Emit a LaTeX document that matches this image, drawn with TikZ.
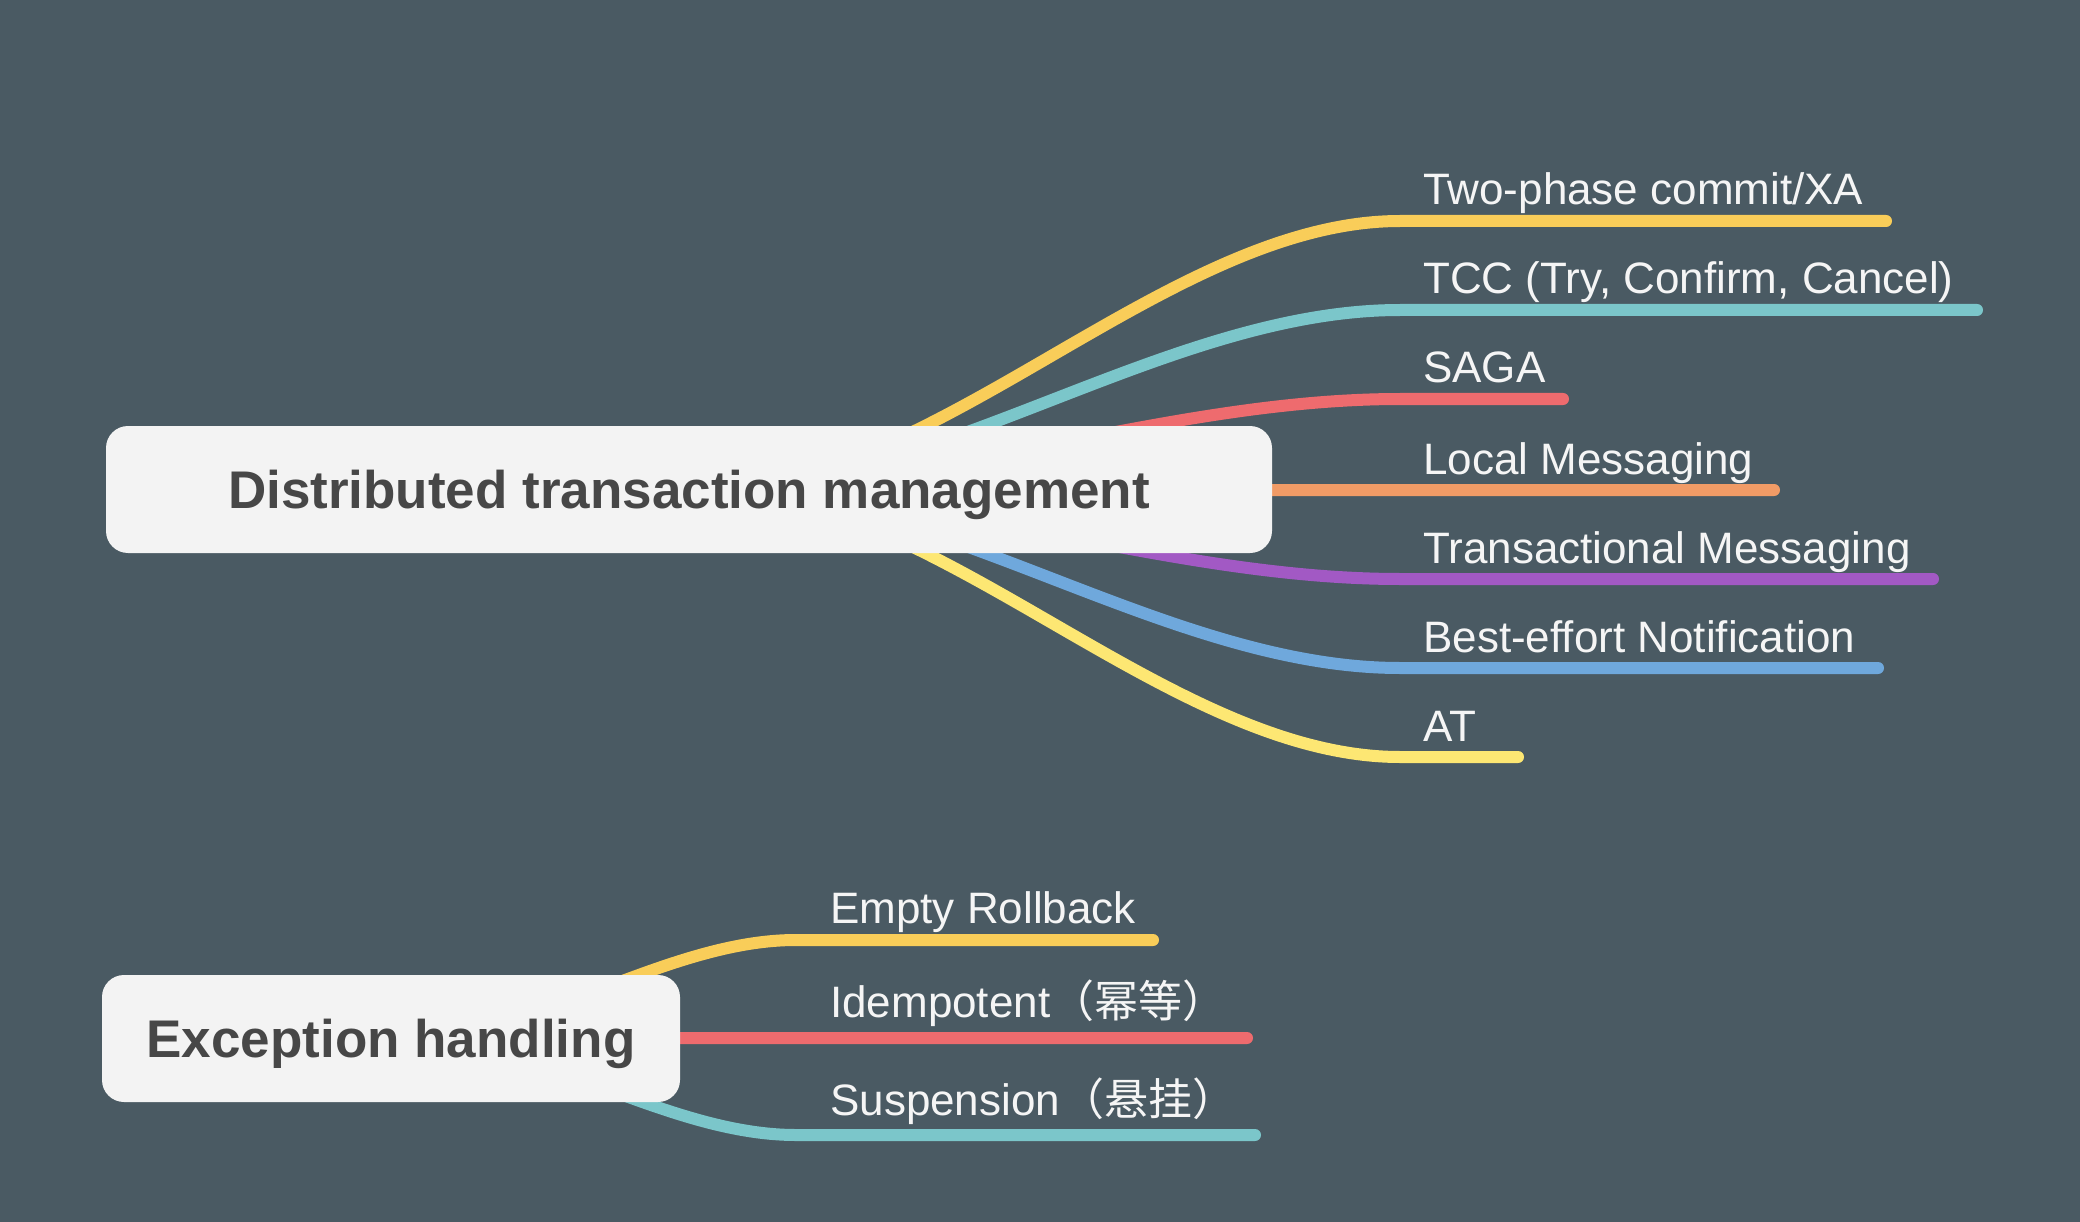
\documentclass[tikz,border=0pt]{standalone}
\usepackage{fontspec}
\setmainfont{Liberation Sans}
\newfontfamily\cjk{Noto Sans CJK SC}
\definecolor{bgc}{RGB}{74,90,99}
\definecolor{boxfill}{RGB}{243,243,243}
\definecolor{boxtext}{RGB}{71,71,71}
\definecolor{labeltext}{RGB}{245,245,245}
\definecolor{cyellow}{RGB}{249,205,89}
\definecolor{ccyan}{RGB}{123,198,202}
\definecolor{cred}{RGB}{238,107,110}
\definecolor{corange}{RGB}{241,155,102}
\definecolor{cpurple}{RGB}{162,89,196}
\definecolor{cblue}{RGB}{111,168,220}
\definecolor{clyellow}{RGB}{253,231,115}
\tikzset{
  rootbox/.style={fill=boxfill, draw=none, rounded corners=22pt, text=boxtext,
    font=\fontsize{53}{60}\selectfont\bfseries, inner sep=0pt,
    text height=38pt, text depth=0pt},
  branch/.style={line width=12pt, line cap=round},
  leaf/.style={text=labeltext, font=\fontsize{44}{50}\selectfont, anchor=base west, inner sep=0pt},
}
\begin{document}
\begin{tikzpicture}[x=1pt,y=-1pt]
\fill[bgc] (0,0) rectangle (2080,1222);
\useasboundingbox (0,0) rectangle (2080,1222);

% anchor points for branch starts
\coordinate (r1) at (705,489.5);
\coordinate (r2) at (405,1038.5);

% branch bends and ends
\coordinate (h1) at (1400,221); \coordinate (e1) at (1886,221);
\coordinate (h2) at (1400,310); \coordinate (e2) at (1977,310);
\coordinate (h3) at (1400,399); \coordinate (e3) at (1563,399);
\coordinate (h4) at (1272,490); \coordinate (e4) at (1774,490);
\coordinate (h5) at (1400,579); \coordinate (e5) at (1933,579);
\coordinate (h6) at (1400,668); \coordinate (e6) at (1878,668);
\coordinate (h7) at (1400,757); \coordinate (e7) at (1518,757);

\coordinate (g1) at (796,940);  \coordinate (f1) at (1153,940);
\coordinate (g2) at (680,1038); \coordinate (f2) at (1247,1038);
\coordinate (g3) at (796,1135); \coordinate (f3) at (1255,1135);

\draw[branch,cyellow] (r1) .. controls (937,489.5) and (1168,221) .. (h1) -- (e1);
\draw[branch,ccyan]   (r1) .. controls (937,489.5) and (1168,310) .. (h2) -- (e2);
\draw[branch,cred]    (r1) .. controls (937,489.5) and (1168,399) .. (h3) -- (e3);
\draw[branch,corange] (r1) -- (h4) -- (e4);
\draw[branch,cpurple] (r1) .. controls (937,489.5) and (1168,579) .. (h5) -- (e5);
\draw[branch,cblue]   (r1) .. controls (937,489.5) and (1168,668) .. (h6) -- (e6);
\draw[branch,clyellow](r1) .. controls (937,489.5) and (1168,757) .. (h7) -- (e7);

\draw[branch,cyellow] (r2) .. controls (535,1038.5) and (666,940) .. (g1) -- (f1);
\draw[branch,cred]    (r2) -- (g2) -- (f2);
\draw[branch,ccyan]   (r2) .. controls (535,1038.5) and (666,1135) .. (g3) -- (f3);

\node[rootbox, minimum width=1166pt, minimum height=127pt] (dtm) at (689,489.5) {Distributed transaction management};
\node[rootbox, minimum width=578pt, minimum height=127pt] (exh) at (391,1038.5) {Exception handling};

\node[leaf] (l1) at (1423,205) {Two-phase commit/XA};
\node[leaf] (l2) at (1423,294) {TCC (Try, Confirm, Cancel)};
\node[leaf] (l3) at (1423,383) {SAGA};
\node[leaf] (l4) at (1423,474) {Local Messaging};
\node[leaf] (l5) at (1423,563) {Transactional Messaging};
\node[leaf] (l6) at (1423,652) {Best-effort Notification};
\node[leaf] (l7) at (1423,741) {AT};

\node[leaf] (m1) at (830,923) {Empty Rollback};
\node[leaf] (m2) at (830,1017) {Idempotent{\cjk （幂等）}};
\node[leaf] (m3) at (830,1115) {Suspension{\cjk （悬挂）}};
\end{tikzpicture}
\end{document}
